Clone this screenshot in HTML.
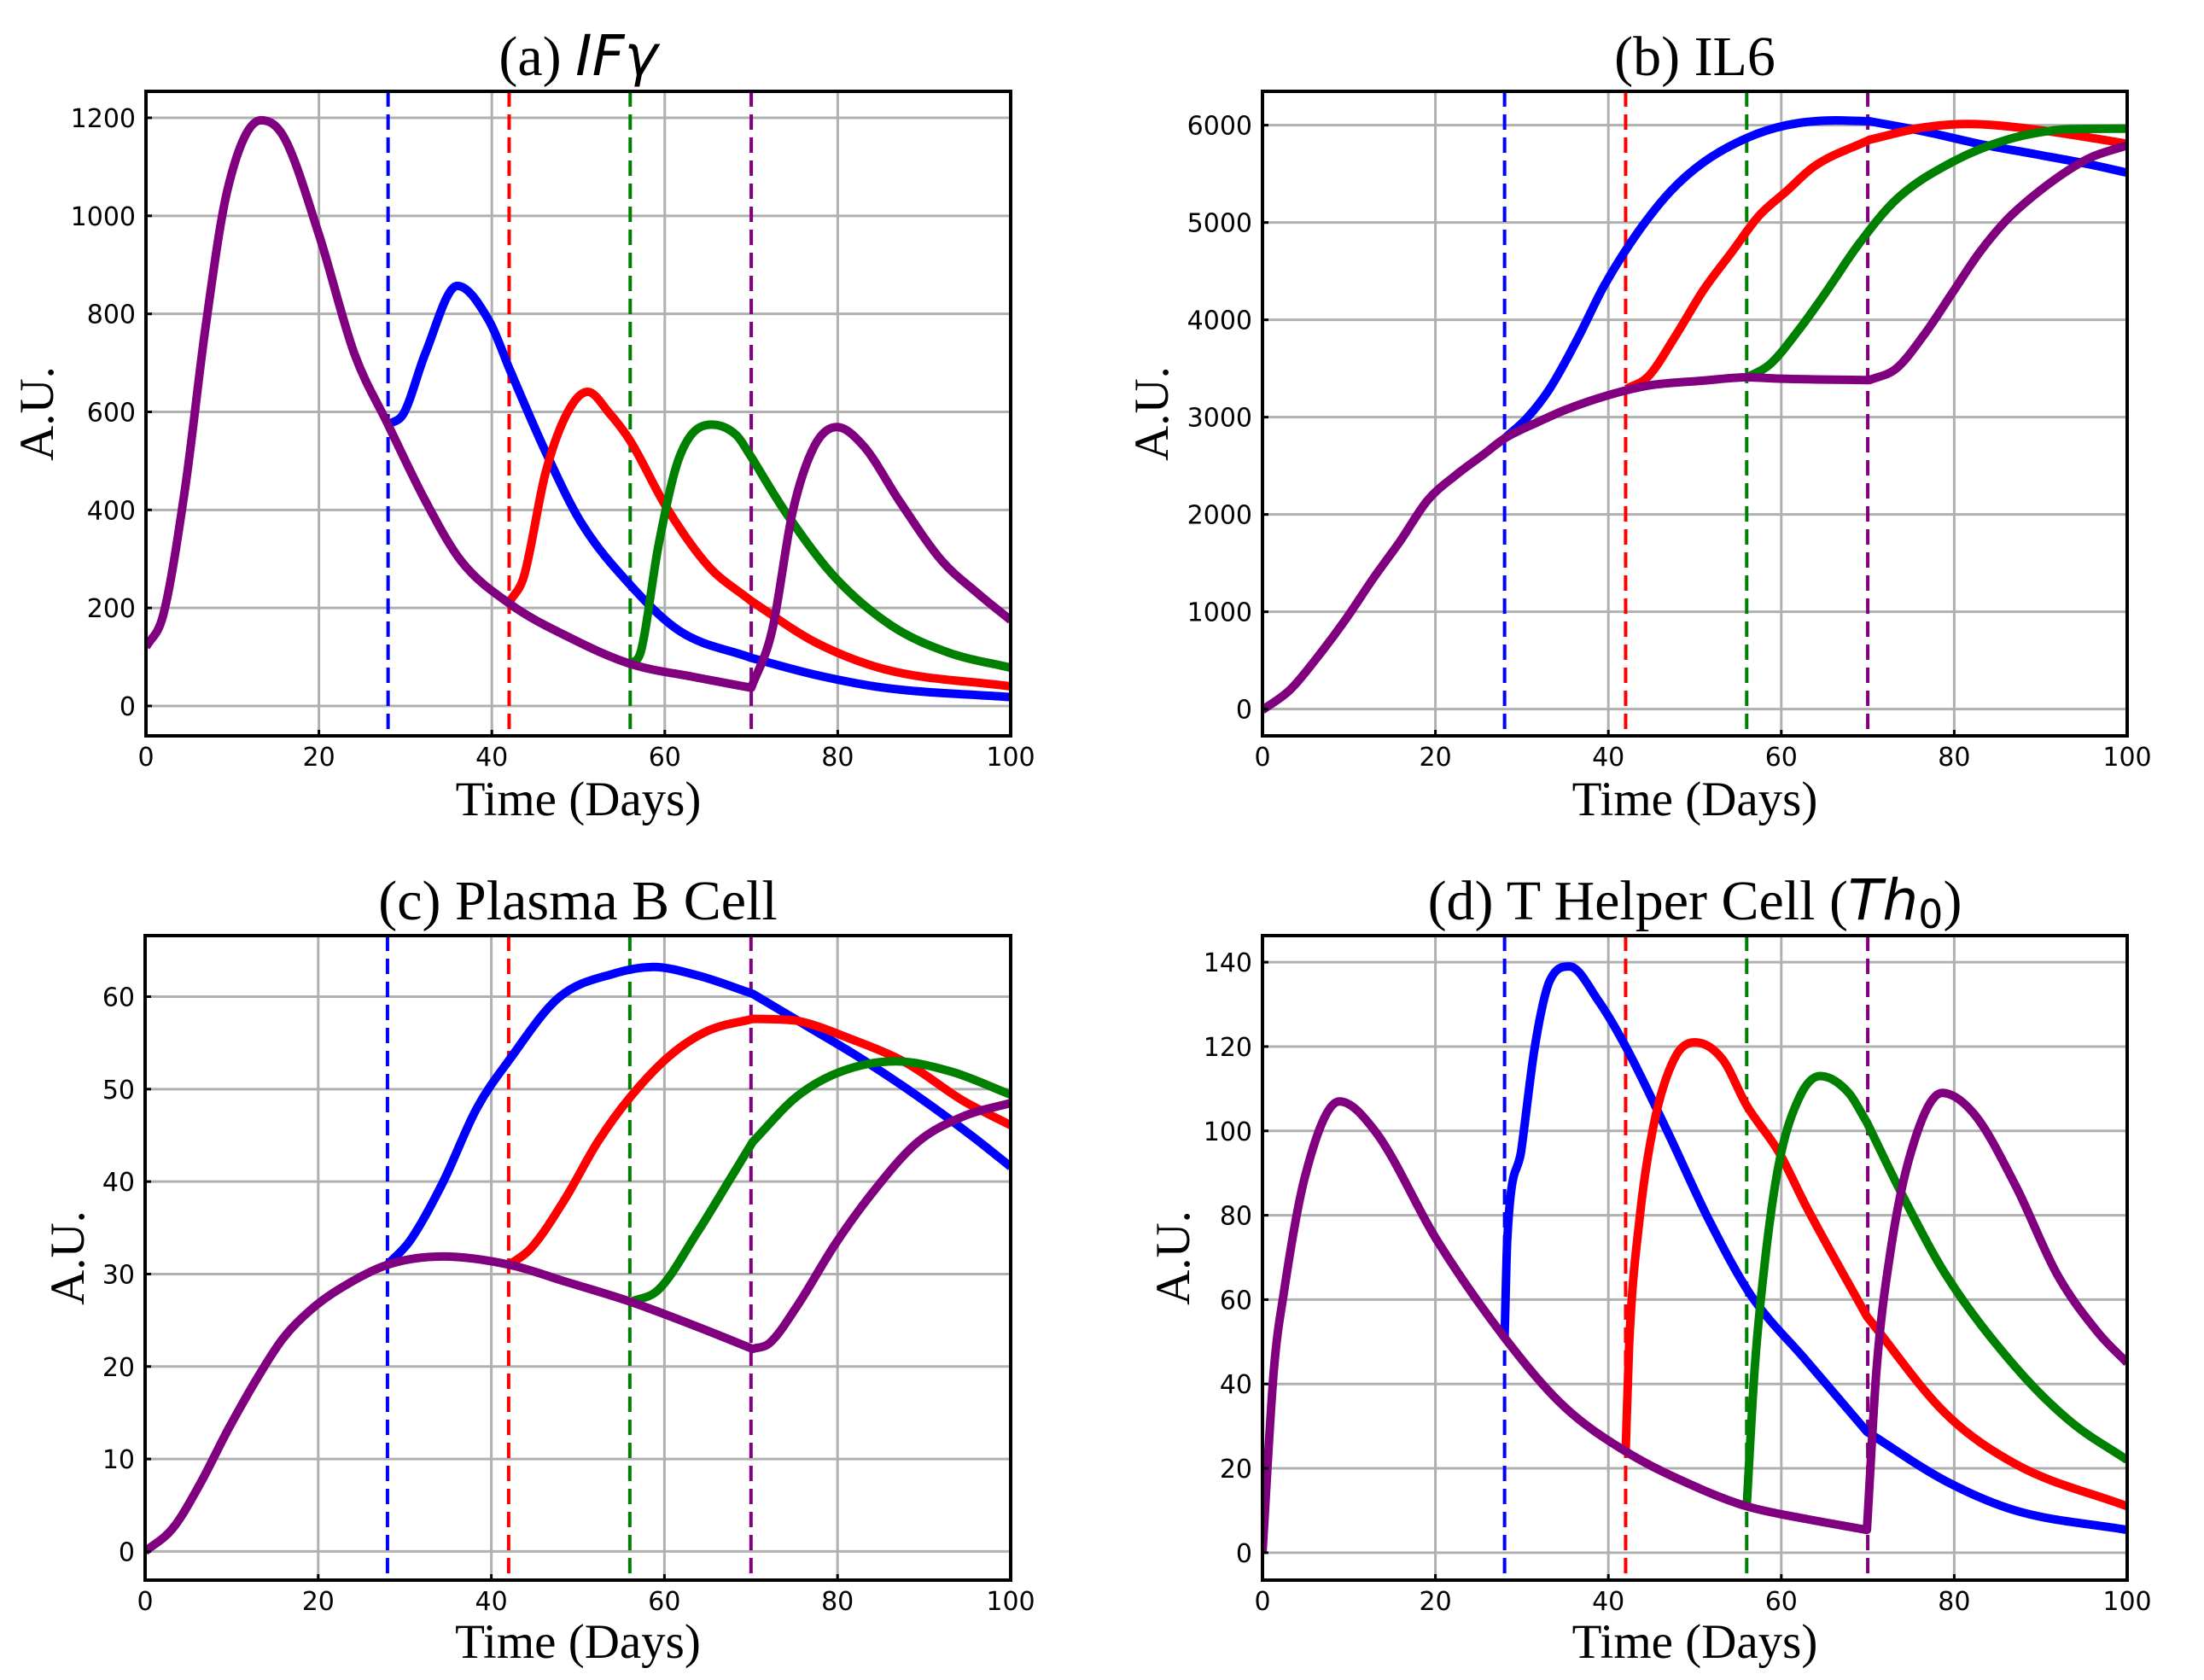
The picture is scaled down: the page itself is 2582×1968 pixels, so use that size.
<!DOCTYPE html>
<html><head><meta charset="utf-8"><style>
html,body{margin:0;padding:0;background:#fff;}
svg{display:block;}
.tick{font-family:"DejaVu Sans","Liberation Sans",sans-serif;font-size:30px;fill:#000;}
.ttl{font-family:"Liberation Serif",serif;font-size:66px;fill:#000;}
.lab{font-family:"Liberation Serif",serif;font-size:57px;fill:#000;}
.math{font-family:"DejaVu Sans","Liberation Sans",sans-serif;font-style:italic;}
</style></head><body>
<svg id="fig" width="2582" height="1968" viewBox="0 0 2582 1968" xmlns="http://www.w3.org/2000/svg"></svg>
<script>
// ---- Data ----
const treatDays = [28, 42, 56, 70];
const treatColors = ['#0000ff', '#ff0000', '#008000', '#800080'];
const xTicks = [0, 20, 40, 60, 80, 100];

// (a) IFN-gamma
const aPurpleX = [0,2,4.5,6.9,9.4,13.3,15.9,20,24.1,28,32.3,36.4,42.1,48.7,56,63.4,70,72.4,74.8,77.3,79.9,83,87.1,92,96.1,100];
const aPurpleY = [120,186,441,774,1051,1195,1162,962,719,574,419,297,208,142,86,59,37,153,397,530,569,530,419,297,231,175];
const aBlueX = [28,29.8,32.3,36,39.7,42.1,46.2,50.3,56,61.7,70,77.3,85.4,100];
const aBlueY = [574,597,719,857,785,685,519,375,247,153,98,64,37,18];
const aRedX = [42.1,43.7,46.2,48.7,51.1,53.6,56,60.1,65,70,77.3,85.4,100];
const aRedY = [214,264,475,597,641,597,541,408,286,214,131,75,40];
const aGreenX = [56,57.2,59.3,61.7,65.4,68.3,70,73.9,79.6,86.2,92.8,100];
const aGreenY = [86,109,330,508,574,552,508,397,264,164,109,78];
const aYTicks = [0,200,400,600,800,1000,1200];

// (b) IL6
const bPurpleX = [0,3.2,6.4,9.6,12.8,15.9,19.1,22.3,25.5,28,31.9,35.1,40,44.6,51,56,60,70.2,73.3,76.5,79.7,82.9,86.1,89.3,92.5,95.7,100];
const bPurpleY = [-10,199,538,919,1342,1723,2146,2400,2612,2781,2951,3078,3226,3324,3375,3409,3395,3380,3500,3844,4267,4690,5030,5284,5496,5665,5792];
const bBlueX = [28,30.6,33.2,36.4,39.5,43.4,47.2,51,56.1,60.6,66.3,70.2,76.5,82.9,89.3,95.7,100];
const bBlueY = [2781,2993,3290,3798,4348,4898,5322,5618,5872,6000,6050,6041,5936,5808,5703,5597,5512];
const bRedX = [42.1,44.6,47.8,51,54.2,57.4,60.6,63.8,70.2,76.5,81.6,89.3,95.7,100];
const bRedY = [3290,3417,3840,4306,4687,5068,5322,5576,5851,5978,6012,5957,5872,5809];
const bGreenX = [56.1,58.7,61.9,65,68.9,73.3,79.7,86.1,92.5,100];
const bGreenY = [3409,3544,3882,4263,4771,5237,5618,5851,5957,5965];
const bYTicks = [0,1000,2000,3000,4000,5000,6000];

// (c) Plasma B cell
const cPurpleX = [0,3.2,6.4,9.6,12.8,15.9,19.1,22.3,28,34.4,42.1,48.5,56.1,63.8,70.2,72.1,75.3,79.7,84.2,89.3,94.4,100];
const cPurpleY = [0,2.5,7.4,13.2,18.5,23,26.1,28.3,31,31.9,31,29.2,27,24.3,21.9,22.5,26.5,33.2,39,44.3,47,48.5];
const cBlueX = [28,30.6,34.4,38.3,42.1,47.8,54.2,58.7,63.8,70.2,76.5,82.9,89.3,95.7,100];
const cBlueY = [31,33.6,39.9,47.9,53.2,59.9,62.5,63.2,62.3,60.3,56.8,53.2,49.2,44.8,41.6];
const cRedX = [42.1,44.6,48.5,52.3,56.1,60.6,65,70.2,75.3,81.6,88,94.4,100];
const cRedY = [31,32.8,38.1,44.3,49.2,53.6,56.3,57.6,57.4,55.4,52.8,48.8,46.1];
const cGreenX = [56.1,59.3,63.8,67.6,70.2,75.3,80.4,86.7,93.1,100];
const cGreenY = [27,28.3,34.5,40.3,44.3,49.2,51.9,53,51.9,49.4];
const cYTicks = [0,10,20,30,40,50,60];

// (d) T helper cell
const dPurpleX = [0,1.3,2.5,4.9,8.9,13,20.2,28,34.7,42,50.8,56,62.9,69.9,71,72.6,75,78.6,82.3,87.1,91.9,96.7,100];
const dPurpleY = [0,43,62,89,107,100,74,51,35,24,15,11,8,5.4,43,71,95,109,104,87,66,52,45];
const dBlueX = [28,28.3,29.9,31.5,33.1,35.5,38.8,42,46.8,51.6,56.5,62.9,69.9,79,87.1,100];
const dBlueY = [51,74,95,120,135,139,131,120,100,79,61,45.5,28.7,17,10,5.4];
const dRedX = [42,42.4,43.6,45.2,47.6,50,53.2,56,59.7,62.9,69.9,79,87.1,100];
const dRedY = [24,49,79,101,117,121,117,106,95,82,56,33,21,11];
const dGreenX = [56,56.9,58.1,59.7,62.1,64.5,67.8,69.9,74.2,79,87.1,93.5,100];
const dGreenY = [11,43,69,92,108,113,109,102,84,66,44,31,22];
const dYTicks = [0,20,40,60,80,100,120,140];

const NS = 'http://www.w3.org/2000/svg';
const fig = document.getElementById('fig');
function mk(tag, attrs, parent){
  const e = document.createElementNS(NS, tag);
  for (const k in attrs) e.setAttribute(k, attrs[k]);
  (parent||fig).appendChild(e);
  return e;
}
// monotone cubic (Fritsch–Carlson) with optional kink points (one-sided tangents)
function monoPath(xs, ys, kinks){
  const n = xs.length;
  const d = [];
  for (let i = 0; i < n-1; i++) d.push((ys[i+1]-ys[i])/(xs[i+1]-xs[i]));
  const mL = new Array(n), mR = new Array(n);
  for (let i = 0; i < n; i++){
    let m;
    if (i === 0) m = d[0];
    else if (i === n-1) m = d[n-2];
    else if (d[i-1]*d[i] <= 0) m = 0;
    else m = (d[i-1]+d[i])/2;
    mL[i] = m; mR[i] = m;
    if (i > 0 && i < n-1 && kinks.some(k => Math.abs(k - xs[i]) < 0.35)){
      mL[i] = d[i-1]; mR[i] = d[i];
    }
  }
  for (let i = 0; i < n-1; i++){
    if (d[i] === 0){ mR[i] = 0; mL[i+1] = 0; continue; }
    const a = mR[i]/d[i], b = mL[i+1]/d[i];
    const s = a*a + b*b;
    if (s > 9){ const t = 3/Math.sqrt(s); mR[i] = t*a*d[i]; mL[i+1] = t*b*d[i]; }
  }
  return {d, mL, mR};
}

function panel(cfg){
  const g = mk('g', {});
  
  
  const L = cfg.L, R = cfg.R, T = cfg.T, B = cfg.B;
  const sx = v => L + v / 100 * (R - L);
  const sy = v => B - (v - cfg.ymin) / (cfg.ymax - cfg.ymin) * (B - T);
  const kx = (R-L)/100, ky = (B-T)/(cfg.ymax-cfg.ymin);
  function path(xs, ys){
    const t = monoPath(xs, ys, [70]);
    let s = 'M' + sx(xs[0]).toFixed(1) + ',' + sy(ys[0]).toFixed(1);
    for (let i = 0; i < xs.length-1; i++){
      const h = xs[i+1]-xs[i];
      const c1x = sx(xs[i] + h/3), c1y = sy(ys[i] + t.mR[i]*h/3);
      const c2x = sx(xs[i+1] - h/3), c2y = sy(ys[i+1] - t.mL[i+1]*h/3);
      s += ' C' + c1x.toFixed(1)+','+c1y.toFixed(1)+' '+c2x.toFixed(1)+','+c2y.toFixed(1)+' '+sx(xs[i+1]).toFixed(1)+','+sy(ys[i+1]).toFixed(1);
    }
    return s;
  }
  const cid = 'clip-' + cfg.name;
  const cp = mk('clipPath', {id: cid}, g);
  mk('rect', {x: L, y: T, width: R-L, height: B-T}, cp);
  xTicks.forEach(t => {
    const l = mk('line', {x1: sx(t), x2: sx(t), y1: T, y2: B, stroke: '#b0b0b0', 'stroke-width': 3}, g);
    
    
  });
  cfg.yTicks.forEach(t => {
    const l = mk('line', {x1: L, x2: R, y1: sy(t), y2: sy(t), stroke: '#b0b0b0', 'stroke-width': 3}, g);
    
    
  });
  treatDays.forEach((d, i) => {
    const l = mk('line', {x1: sx(d), x2: sx(d), y1: T, y2: B, stroke: treatColors[i], 'stroke-width': 4, 'stroke-dasharray': '18,9'}, g);
    
    
  });
  const series = [
    ['purple-series', cfg.pX, cfg.pY, '#800080'],
    ['blue-series', cfg.bX, cfg.bY, '#0000ff'],
    ['red-series', cfg.rX, cfg.rY, '#ff0000'],
    ['green-series', cfg.gX, cfg.gY, '#008000']
  ];
  [1,2,3,0].forEach(si => {
    const s = series[si];
    const p = mk('path', {d: path(s[1], s[2]), fill: 'none', stroke: s[3], 'stroke-width': 10, 'stroke-linejoin': 'round', 'clip-path': 'url(#' + cid + ')'}, g);
    
    
  });
  const fr = mk('rect', {x: L, y: T, width: R-L, height: B-T, fill: 'none', stroke: '#000', 'stroke-width': 4}, g);
  
  
  xTicks.forEach(t => {
    mk('line', {x1: sx(t), x2: sx(t), y1: B, y2: B-7, stroke: '#000', 'stroke-width': 3}, g);
    const tx = mk('text', {x: sx(t), y: B + 35, 'text-anchor': 'middle', class: 'tick'}, g);
    tx.textContent = t;
    
    
  });
  cfg.yTicks.forEach(t => {
    mk('line', {x1: L, x2: L+7, y1: sy(t), y2: sy(t), stroke: '#000', 'stroke-width': 3}, g);
    const tx = mk('text', {x: L - 12, y: sy(t) + 11, 'text-anchor': 'end', class: 'tick'}, g);
    tx.textContent = t;
    
    
  });
  const xl = mk('text', {x: (L+R)/2, y: cfg.xlabY, 'text-anchor': 'middle', class: 'lab'}, g);
  xl.textContent = 'Time (Days)';
  
  
  const yl = mk('text', {x: 0, y: 0, 'text-anchor': 'middle', class: 'lab', transform: 'translate(' + cfg.ylabX + ',' + ((T+B)/2) + ') rotate(-90)'}, g);
  yl.textContent = 'A.U.';
  
  
  const tt = mk('text', {x: (L+R)/2, y: cfg.titleY, 'text-anchor': 'middle', class: 'ttl'}, g);
  tt.innerHTML = cfg.title;
  
  
}

panel({name:'panel-a-ifn-gamma', L:171, R:1184, T:107, B:862, ymin:-61, ymax:1254, yTicks:aYTicks,
  pX:aPurpleX,pY:aPurpleY,bX:aBlueX,bY:aBlueY,rX:aRedX,rY:aRedY,gX:aGreenX,gY:aGreenY,
  xlabY:955, ylabX:62, titleY:88, title:'(a) <tspan class="math">IFγ</tspan>'});
panel({name:'panel-b-il6', L:1479, R:2492, T:107, B:862, ymin:-275, ymax:6348, yTicks:bYTicks,
  pX:bPurpleX,pY:bPurpleY,bX:bBlueX,bY:bBlueY,rX:bRedX,rY:bRedY,gX:bGreenX,gY:bGreenY,
  xlabY:955, ylabX:1368, titleY:88, title:'(b) IL6'});
panel({name:'panel-c-plasma-b-cell', L:170, R:1184, T:1096, B:1851, ymin:-3.1, ymax:66.6, yTicks:cYTicks,
  pX:cPurpleX,pY:cPurpleY,bX:cBlueX,bY:cBlueY,rX:cRedX,rY:cRedY,gX:cGreenX,gY:cGreenY,
  xlabY:1942, ylabX:98, titleY:1077, title:'(c) Plasma B Cell'});
panel({name:'panel-d-t-helper-cell', L:1479, R:2492, T:1096, B:1851, ymin:-6.5, ymax:146.3, yTicks:dYTicks,
  pX:dPurpleX,pY:dPurpleY,bX:dBlueX,bY:dBlueY,rX:dRedX,rY:dRedY,gX:dGreenX,gY:dGreenY,
  xlabY:1942, ylabX:1393, titleY:1077, title:'(d) T Helper Cell (<tspan class="math">Th</tspan><tspan class="math" style="font-style:normal;font-size:46px" dy="10">0</tspan><tspan dy="-10">)</tspan>'});
</script>
</body></html>
